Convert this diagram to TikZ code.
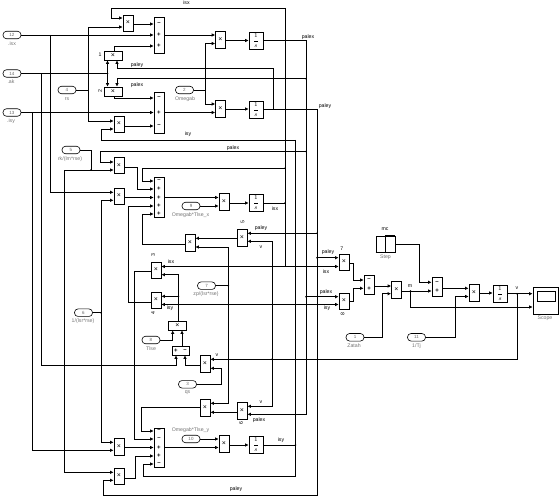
\documentclass[tikz,border=0pt]{standalone}
\usepackage{fontspec}
\setmainfont{Liberation Sans}
\usetikzlibrary{arrows.meta,calc}

\tikzset{
  wire/.style={line width=0.7pt,-{Latex[length=3.5pt,width=3.5pt]}},
  link/.style={line width=0.7pt},
  tapdot/.style={fill=black,circle,inner sep=0pt,minimum size=1.8pt},
  block/.style={draw,line width=0.7pt,inner sep=0pt,font=\fontsize{7}{8}\selectfont},
  prod/.style={block,minimum width=10pt,minimum height=16pt},
  wideprod/.style={block,minimum width=18pt,minimum height=9pt},
  total/.style={block,minimum width=10pt},
  integ/.style={block,minimum width=14pt,minimum height=17pt,font=\fontsize{6}{7}\selectfont},
  inport/.style={draw,line width=0.6pt,rounded corners=3.5pt,minimum width=18pt,minimum height=7.5pt,inner sep=0pt,text=black!60,font=\fontsize{4.5}{5}\selectfont},
  sign/.style={inner sep=0pt,font=\fontsize{6}{6}\selectfont\bfseries},
  caption/.style={inner sep=0pt,text=black!55,font=\fontsize{5.2}{6}\selectfont},
  tagname/.style={inner sep=0pt,font=\fontsize{5.2}{6}\selectfont},
}

\begin{document}
\begin{tikzpicture}[x=1pt,y=-1pt]
    \useasboundingbox (0,0) rectangle (560,497);

    % product blocks
    \foreach \n/\x/\y in {prodA/128/23,prodD/119/124,prodG/119/165.5,prodH/119/196,prodL/156/270,prodM/156/300,
        prodT/119/476,prodU/344/262,prodV/344/301}
        \node [prod] (\n) at (\x,\y) {×};
    \foreach \n/\x/\y in {prodE/220.5/39.5,prodF/220.5/108.5,prodI/224/201.5,prodJ/190/242.5,prodK/242/237.5,prodO/205/363.5,
        prodP/205/407.5,prodQ/242/410.5,prodR/224/443.5,prodS/119/446.5,prodW/396.5/290,prodX/474/292.5}
        \node [prod,minimum height=17pt] (\n) at (\x,\y) {×};
    \node [wideprod] (prodB) at (113,55.5) {×};
    \node [wideprod] (prodC) at (113,91.5) {×};
    \node [wideprod] (prodN) at (177.5,325.5) {×};

    % sums
    \node [total,minimum height=36pt] (sumA) at (159,35) {};
    \node [total,minimum height=41pt] (sumB) at (159,112.5) {};
    \node [total,minimum height=40pt] (sumC) at (159,197) {};
    \node [total,minimum height=39pt] (sumE) at (159,447.5) {};
    \node [total,minimum height=19pt] (sumF) at (369,284.5) {};
    \node [total,minimum height=19pt] (sumG) at (437,286.5) {};
    \node [block,minimum width=17pt,minimum height=9pt] (sumD) at (180.5,350.5) {};

    % integrators
    \foreach \n/\x/\y in {intA/256/41,intB/256/109.5,intC/256/202.5,intD/256/444.5,intE/500/294}
        \node [integ] (\n) at (\x,\y) {$\displaystyle\frac{1}{s}$};

    % constants
    \foreach \n/\x/\y/\t in {nIsx/12/35/12,nIsk/12/73.5/14,nIsy/12/112.5/13,nRs/67/90/4,nOmegab/184.5/90/2,nRk/71/150/5,
        nLsr/83.5/312.7/6,nOmegaX/191/206/9,nZp/206.5/285.7/7,nTlse/151/340/8,nQs/187.5/384.3/3,nOmegaY/191/439/10,
        nZetah/355/337.3/1,nTj/416.5/337.3/11}
        \node [inport] (\n) at (\x,\y) {\t};

    % step and scope
    \node [block,minimum width=19pt,minimum height=16pt] (nStep) at (385.5,244) {};
    \draw [line width=1.1pt] (nStep.south west) -- (nStep.south) -- (nStep.north) -- (nStep.north east);
    \node [block,minimum width=25pt,minimum height=27pt] (nScope) at (545.5,301) {};
    \node [block,minimum width=18pt,minimum height=10pt] (nScreen) at (546.5,296.3) {};

    % ports on the left and right sides
    \foreach \b/\p/\y in {prodA/1/18,prodA/2/27,sumA/1/24,sumA/2/35,sumA/3/46,sumB/1/98,sumB/2/112.5,sumB/3/126,
        prodD/1/121,prodD/2/129,prodE/1/35,prodE/2/43.5,prodF/1/104,prodF/2/112.5,intA/i/40.5,intB/i/109,
        prodG/1/162,prodG/2/170,prodH/1/192.3,prodH/2/200.3,sumC/1/181,sumC/2/189,sumC/3/197.5,sumC/4/206,sumC/5/214,
        prodI/1/197.5,prodI/2/206,intC/i/203,sumE/1/431,sumE/2/439,sumE/3/447.5,sumE/4/456,sumE/5/464,
        prodR/1/439,prodR/2/447.5,intD/i/445,prodS/1/442.3,prodS/2/450.3,prodT/1/472.3,prodT/2/480.3,
        prodU/1/257.7,prodU/2/266.5,prodV/1/296.7,prodV/2/304.5,sumF/1/280,sumF/2/288.3,prodW/1/286,prodW/2/293.7,
        sumG/1/282.3,sumG/2/291,prodX/1/288.3,prodX/2/296.5,intE/i/293,nScope/1/293.7,nScope/2/307,
        prodJ/o/244.3,prodK/o/238.3,prodL/o/271.3,prodM/o/302.7,prodO/o/365.7,prodP/o/407.5,prodQ/o/412.3}
        \coordinate (\b\p) at (\b.west |- 0,\y);
    \foreach \b/\p/\y in {prodA/o/24,prodD/o/126,prodE/o/40.5,prodF/o/109,intA/o/40.5,intB/o/109,sumA/o/35,sumB/o/112.5,
        prodG/o/167,prodH/o/197.5,sumC/o/197.5,prodI/o/203,intC/o/203,sumE/o/447.5,prodR/o/445,intD/o/445,
        prodS/o/447.5,prodT/o/478.3,prodU/o/263,prodV/o/301,sumF/o/286,prodW/o/291,sumG/o/288.3,prodX/o/293,intE/o/293.7,
        prodJ/1/238.3,prodJ/2/247,prodK/1/233.3,prodK/2/241.3,prodL/1/266.5,prodL/2/274.7,prodM/1/296.3,prodM/2/304.5,
        prodO/1/359.3,prodO/2/368.3,prodP/1/403.3,prodP/2/412.3,prodQ/1/406.3,prodQ/2/414.3}
        \coordinate (\b\p) at (\b.east |- 0,\y);
    \foreach \b/\p/\x in {prodB/1/107.5,prodB/2/117,prodN/1/172.7,prodN/2/182,sumD/1/176,sumD/2/185}
        \coordinate (\b\p) at (\b.south -| \x,0);
    \foreach \b/\p/\x in {prodC/1/107.5,prodC/2/117}
        \coordinate (\b\p) at (\b.north -| \x,0);
    \coordinate (prodBo) at (prodB.north -| 114,0);
    \coordinate (prodCo) at (prodC.south -| 114,0);
    \coordinate (prodNo) at (prodN.north -| 178.5,0);
    \coordinate (sumDo) at (sumD.north -| 182,0);

    % signs of the sums
    \foreach \b/\p/\s in {sumA/1/--,sumA/2/+,sumA/3/+,sumB/1/--,sumB/2/+,sumB/3/--,sumC/1/--,sumC/2/+,sumC/3/+,sumC/4/+,sumC/5/+,
        sumE/1/--,sumE/2/--,sumE/3/+,sumE/4/+,sumE/5/--,sumF/1/--,sumF/2/+,sumG/1/--,sumG/2/+}
        \node [sign] (s\b\p) at (\b\p -| \b) {\s};
    \node [sign] (ssumD1) at (sumD1 |- sumD) {+};
    \node [sign] (ssumD2) at (sumD2 |- sumD) {--};

    % bends and branch points
    \foreach \n/\x/\y in {jIsx/50.5/35,jIsk/41/73.5,jIskB/107.5/73.5,jIsy/32.5/112.5,jRs/88/90,jOm/205/90,jRk/91/170,bRk/64/170,
        jLs/101/312.7,jZp/228.3/285.7,jV/272/359.3,jVr/517/293.7,jM/410.5/291,bIsk/176/365,bIsxT/111/18,jIsxT/285/8,
        jIsxC/285/168.3,bIsxC/142.3/181,jIsxD/285/203,jIsxE/285/266.5,jIsyT/295.5/140,bIsyT/101/129,bIsyB/143/476,jIsyD/295.5/445,
        jIsyM/295.5/304.5,jPxA/306/78.7,jPxB/306/151.5,bPxB/100/162,jPxC/306/296.7,bPxD/306/414.3,jPyA/273.5/109,bPyA/117/68.5,
        jPyB/317/233.3,jPyC/317/257.7,bPyD/317/495,bPyE/103.3/480.3,bJo/142.3/214,bLo/134.3/439,bMo/128.3/206,bPo/141.3/431,
        bGo/137/189,bTo/135.3/456,bUo/353.5/280,bVo/353.5/288.3,bZe/382.3/293.7,bStep/419.3/282.3,bTj/455.7/296.5,bQs/221.7/368.3,
        jPm/178.5/296.3}
        \coordinate (\n) at (\x,\y);

    % inputs on the left
    \draw [wire] (nIsx) -- (sumA2);
    \draw [wire] (jIsx) |- (prodH1);
    \draw [link] (nIsk) -- (jIskB);
    \draw [wire] (jIskB) -- (prodB1);
    \draw [wire] (jIskB) -- (prodC1);
    \draw [wire] (jIsk) |- (bIsk) -- (sumD1);
    \draw [wire] (nIsy) -- (sumB2);
    \draw [wire] (jIsy) |- (prodS2);
    \draw [link] (nRs) -- (jRs);
    \draw [wire] (jRs) |- (prodA2);
    \draw [wire] (jRs) |- (prodD1);
    \draw [link] (nOmegab) -- (jOm);
    \draw [wire] (jOm) |- (prodE2);
    \draw [wire] (jOm) |- (prodF1);

    % top part
    \draw [wire] (prodAo) -- (sumA1);
    \draw [wire] (prodBo) |- (sumA3);
    \draw [wire] (prodCo) |- (sumB1);
    \draw [wire] (prodDo) -- (sumB3);
    \draw [wire] (sumAo) -- (prodE1);
    \draw [wire] (sumBo) -- (prodF2);
    \draw [wire] (prodEo) -- (intAi);
    \draw [wire] (prodFo) -- (intBi);
    \draw [wire] (intAo) -| (bPxD) -- (prodQ2);
    \draw [wire] (intBo) -| (bPyD) -| (bPyE) -- (prodT2);
    \draw [wire] (jPyA) |- (bPyA) -- (prodB2);
    \draw [wire] (jPxA) -| (prodC2);

    % the isx and isy lines
    \draw [wire] (jIsxT) -| (bIsxT) -- (prodA1);
    \draw [wire] (jIsxC) -| (bIsxC) -- (sumC1);
    \draw [link] (jIsxT) -- (jIsxE);
    \draw [wire] (jIsxE) -- (prodL1);
    \draw [wire] (jIsxE) -- (prodU2);
    \draw [link] (intCo) -- (jIsxD);
    \draw [wire] (jIsyT) -| (bIsyT) -- (prodD2);
    \draw [wire] (jIsyT) |- (bIsyB) |- (sumE5);
    \draw [link] (intDo) -- (jIsyD);
    \draw [wire] (jIsyM) -- (prodV2);
    \draw [wire] (jIsyM) -- (prodM2);
    \draw [wire] (jPxB) -| (bPxB) -- (prodG1);
    \draw [wire] (jPxC) -- (prodV1);
    \draw [wire] (jPyB) -- (prodK1);
    \draw [wire] (jPyC) -- (prodU1);

    % middle part
    \draw [wire] (prodGo) -| (bGo) -- (sumC2);
    \draw [wire] (prodHo) -- (sumC3);
    \draw [link] (nRk) -| (jRk);
    \draw [wire] (jRk) -- (prodG2);
    \draw [wire] (jRk) -- (bRk) |- (prodT1);
    \draw [link] (nLsr) -- (jLs);
    \draw [wire] (jLs) |- (prodH2);
    \draw [wire] (jLs) |- (prodS1);
    \draw [wire] (sumCo) -- (prodI1);
    \draw [wire] (nOmegaX) -- (prodI2);
    \draw [wire] (prodIo) -- (intCi);
    \draw [wire] (prodJo) -| (bJo) -- (sumC5);
    \draw [wire] (prodKo) -- (prodJ1);
    \draw [link] (nZp) -- (jZp);
    \draw [wire] (jZp) |- (prodJ2);
    \draw [wire] (jZp) |- (prodP1);
    \draw [wire] (jV) |- (prodK2);
    \draw [wire] (jV) |- (prodQ1);
    \draw [wire] (nQs) -| (bQs) -- (prodO2);
    \draw [wire] (jVr) |- (prodO1);
    \draw [wire] (prodOo) -| (sumD2);
    \draw [wire] (sumDo) -- (prodN2);
    \draw [wire] (nTlse) -| (prodN1);
    \draw [wire] (prodNo) |- (prodL2);
    \draw [wire] (jPm) -- (prodM1);
    \draw [wire] (prodLo) -| (bLo) -- (sumE2);
    \draw [wire] (prodMo) -| (bMo) -- (sumC4);
    \draw [wire] (prodPo) -| (bPo) -- (sumE1);
    \draw [wire] (prodQo) -- (prodP2);

    % bottom part
    \draw [wire] (sumEo) -- (prodR2);
    \draw [wire] (nOmegaY) -- (prodR1);
    \draw [wire] (prodRo) -- (intDi);
    \draw [wire] (prodSo) -- (sumE3);
    \draw [wire] (prodTo) -| (bTo) -- (sumE4);

    % right part
    \draw [wire] (prodUo) -| (bUo) -- (sumF1);
    \draw [wire] (prodVo) -| (bVo) -- (sumF2);
    \draw [wire] (sumFo) -- (prodW1);
    \draw [wire] (nZetah) -| (bZe) -- (prodW2);
    \draw [wire] (prodWo) -- (sumG2);
    \draw [wire] (jM) |- (nScope2);
    \draw [wire] (nStep) -| (bStep) -- (sumG1);
    \draw [wire] (sumGo) -- (prodX1);
    \draw [wire] (nTj) -| (bTj) -- (prodX2);
    \draw [wire] (prodXo) -- (intEi);
    \draw [wire] (intEo) -- (nScope1);

    % branch dots
    \foreach \n in {jIskB,jPxA,jPxB,jPxC,jPyB,jPyC,jIsxC,jIsxD,jIsyD,jV,jVr,jM,jPm,jZp,jLs,jRk}
        \node [tapdot] (d\n) at (\n) {};

    % names under the blocks
    \foreach \n/\x/\y/\t in {cIsx/12/44/.isx,cIsk/11/82/.ak,cIsy/11/121/.isy,cRs/67/99/rs,cOmegab/185/99/Omegab,cRk/70/159/{rk/(lm*rse)},
        cLsr/83/321.5/{1/(lsr*rse)},cOmegaX/190.5/214.7/{Omegab*Tlse\_x},cZp/206/294.5/{zp/(lsr*rse)},cTlse/151/349/Tlse,cQs/187.5/393/qs,
        cOmegaY/190.5/430/{Omegab*Tlse\_y},cZetah/354/346/Zatah,cTj/416.5/346/{1/Tj},cStep/385.5/257/Step,cScope/545/318.5/Scope}
        \node [caption] (\n) at (\x,\y) {\t};

    % names on the lines
    \foreach \n/\x/\y/\t in {tIsxA/186.5/3/isx,tPyA/137/65/paley,tPxA/137/85/palex,tPxB/308/37/palex,tPyB/325/106/paley,tIsyA/188/134/isy,
        tPxC/233/148/palex,tIsxB/275/209/isx,tPyC/261/228/paley,tVa/261/247/v,tIsxC/171/262/isx,tIsyB/170/308/isy,tPyD/328/252/paley,
        tIsxD/326/272/isx,tPxD/326/292/palex,tIsyC/327/308/isy,tVb/217/355/v,tVc/261/402/v,tPxE/259/420/palex,tIsyD/281/440/isy,
        tPyE/236/489/paley,tMc/385/229/mc,tM/410/286/m,tVd/517/288/v,tSeven/341.7/249/7,tOne/100/55/1}
        \node [tagname] (\n) at (\x,\y) {\t};
    \foreach \n/\x/\y/\t in {tTwo/100/91.5/2,tThree/153/255.5/3,tFour/153/313.5/4,tFive/242.7/222.5/5,tSix/241/422.7/6,tEight/342.5/314/8}
        \node [tagname,rotate=90] (\n) at (\x,\y) {\t};
\end{tikzpicture}
\end{document}
